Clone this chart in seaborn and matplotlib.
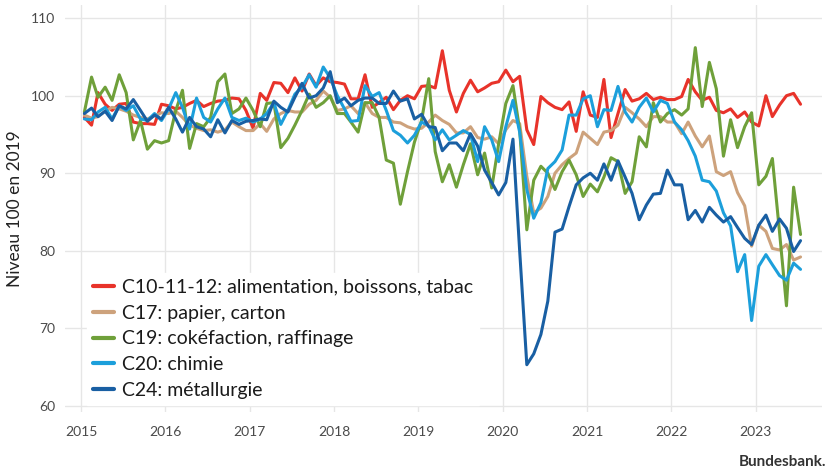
import numpy as np
import pandas as pd
import matplotlib
matplotlib.use("Agg")
import matplotlib.pyplot as plt
import matplotlib.dates as mdates
import seaborn as sns

# Monthly dates, Jan 2015 .. Jul 2023 (plotted mid-month)
months = pd.date_range("2015-01-01", "2023-07-01", freq="MS") + pd.Timedelta(days=14)

series_names = [
    "C10-11-12: alimentation, boissons, tabac",
    "C17: papier, carton",
    "C19: cokéfaction, raffinage",
    "C20: chimie",
    "C24: métallurgie",
]

c10_food = [
    97.2, 96.2, 100.4, 98.9, 98.1, 98.9, 99.0, 96.6, 96.4, 96.4, 96.3, 98.9,
    98.7, 98.3, 98.5, 99.0, 99.4, 98.6, 99.0, 99.3, 99.4, 99.7, 99.6, 98.1,
    95.8, 100.3, 99.4, 101.7, 101.6, 100.4, 102.3, 100.6, 102.8, 101.3, 102.3, 101.8,
    101.7, 101.5, 99.6, 99.6, 102.7, 98.5, 99.1, 99.8, 98.2, 99.4, 100.0, 99.6,
    101.2, 101.3, 101.0, 105.8, 100.7, 97.9, 100.3, 102.0, 100.5, 101.0, 101.6, 101.8,
    103.3, 101.8, 102.5, 95.6, 93.7, 99.9, 99.1, 98.5, 98.2, 99.2, 95.4, 100.5,
    97.5, 97.2, 102.1, 94.6, 97.7, 100.8, 99.3, 99.6, 100.3, 99.5, 99.8, 99.5,
    99.5, 99.9, 102.1, 100.5, 99.4, 99.8, 98.1, 97.8, 98.3, 97.2, 97.9, 96.6,
    96.1, 100.0, 97.3, 98.8, 100.0, 100.3, 98.9,
]
c17_paper = [
    97.5, 97.1, 97.3, 98.0, 98.5, 98.3, 98.0, 97.5, 97.2, 97.0, 97.4, 97.8,
    97.7, 98.0, 97.2, 96.2, 95.8, 95.5, 95.6, 95.3, 95.6, 96.6, 96.0, 95.5,
    95.5, 96.4, 95.4, 97.0, 97.7, 98.1, 97.9, 97.9, 98.9, 99.4, 100.6, 99.8,
    98.1, 98.3, 98.7, 97.7, 99.1, 97.7, 97.2, 97.2, 96.6, 96.5, 96.0, 95.7,
    95.8, 96.6, 97.5, 96.8, 96.3, 95.2, 95.2, 96.0, 94.6, 94.4, 94.7, 93.8,
    95.6, 96.8, 96.4, 89.6, 84.9, 85.5, 87.0, 90.0, 91.1, 91.9, 92.6, 95.3,
    94.5, 93.7, 95.3, 95.5, 96.2, 98.5, 97.8, 97.0, 96.0, 97.3, 97.3, 96.6,
    96.6, 95.1, 96.6, 94.8, 93.4, 94.8, 90.2, 89.7, 90.2, 87.5, 85.8, 80.6,
    83.3, 82.5, 80.3, 80.1, 80.8, 78.8, 79.2,
]
c19_coke = [
    97.9, 102.4, 99.8, 101.1, 99.4, 102.7, 100.4, 94.3, 96.8, 93.1, 94.2, 93.9,
    94.2, 98.1, 100.7, 93.2, 96.4, 96.0, 97.2, 101.8, 102.8, 97.7, 98.3, 99.7,
    98.1, 96.0, 99.0, 99.1, 93.3, 94.5, 96.2, 98.1, 100.2, 98.5, 99.1, 100.0,
    97.7, 97.7, 96.6, 95.3, 99.1, 99.1, 97.2, 91.7, 91.3, 86.0, 90.2, 94.0,
    96.8, 102.2, 92.8, 88.9, 91.1, 88.2, 91.1, 93.8, 89.8, 92.6, 88.1, 93.8,
    99.0, 101.3, 95.6, 82.7, 89.1, 90.9, 90.0, 87.9, 90.2, 91.7, 89.8, 87.0,
    88.6, 87.6, 89.5, 92.0, 91.5, 87.4, 88.9, 94.7, 93.4, 99.1, 96.6, 97.7,
    98.2, 97.5, 98.3, 106.2, 98.6, 104.3, 100.9, 92.2, 96.9, 93.3, 96.0, 97.8,
    88.5, 89.6, 91.9, 82.4, 72.9, 88.2, 82.1,
]
c20_chem = [
    97.0, 96.9, 97.9, 98.5, 97.0, 98.7, 98.1, 98.7, 97.0, 96.8, 97.7, 96.8,
    98.3, 100.4, 98.5, 95.7, 99.7, 97.2, 96.6, 98.3, 99.7, 97.2, 96.8, 97.1,
    96.6, 97.0, 97.7, 99.1, 96.3, 98.1, 100.2, 101.1, 102.7, 101.1, 103.7, 102.3,
    100.0, 98.3, 96.7, 96.8, 101.3, 99.9, 100.4, 98.1, 95.5, 94.9, 93.9, 94.9,
    96.6, 96.1, 94.3, 95.6, 94.3, 94.9, 95.5, 95.0, 91.5, 96.0, 94.3, 91.5,
    96.0, 99.4, 95.3, 87.9, 84.2, 86.2, 90.6, 91.5, 93.0, 97.5, 97.5, 99.6,
    100.0, 96.0, 98.2, 98.1, 101.2, 97.9, 96.6, 98.5, 99.7, 97.9, 99.4, 99.0,
    96.6, 95.6, 94.2, 92.2, 89.1, 88.9, 87.7, 84.9, 83.2, 77.3, 79.5, 71.0,
    78.0, 79.5, 78.2, 76.8, 76.2, 78.4, 77.6,
]
c24_metal = [
    97.7, 98.4, 97.3, 98.0, 96.8, 98.7, 98.3, 99.5, 98.1, 96.7, 97.5, 97.0,
    98.5, 97.0, 95.3, 97.2, 96.0, 95.7, 94.7, 96.9, 95.2, 96.8, 96.3, 96.7,
    96.8, 97.0, 96.9, 99.3, 98.5, 97.9, 99.8, 101.6, 99.7, 100.0, 101.0, 103.1,
    99.1, 99.7, 98.7, 99.4, 99.7, 99.7, 99.0, 99.0, 100.6, 99.3, 99.6, 97.0,
    97.6, 96.0, 95.9, 92.9, 93.9, 93.9, 92.9, 95.1, 93.5, 90.4, 88.8, 87.2,
    88.8, 94.4, 80.0, 65.3, 66.7, 69.2, 73.5, 82.4, 82.8, 85.7, 88.5, 89.4,
    90.0, 89.1, 91.2, 89.1, 91.6, 89.5, 87.4, 84.0, 85.9, 87.3, 87.4, 90.4,
    88.5, 88.5, 84.0, 85.2, 83.7, 85.6, 84.6, 83.7, 84.4, 83.0, 81.6, 80.8,
    83.3, 84.6, 82.5, 84.1, 82.9, 79.9, 81.3,
]

colors = ["#E8332A", "#CDA27C", "#6FA03A", "#1C9FDB", "#195FA3"]
y_ticks = [60, 70, 80, 90, 100, 110]

frames = []
for name, vals in zip(series_names, [c10_food, c17_paper, c19_coke, c20_chem, c24_metal]):
    frames.append(pd.DataFrame({"date": months, "value": vals, "series": name}))
df = pd.concat(frames, ignore_index=True)

sns.set_theme(style="whitegrid")
plt.rcParams["font.family"] = ["Lato", "DejaVu Sans"]

fig = plt.figure(figsize=(8.36, 4.71), dpi=100)
ax = fig.add_axes([65 / 836, 1 - 412 / 471, (822 - 65) / 836, (412 - 5) / 471])

sns.lineplot(data=df, x="date", y="value", hue="series", palette=colors,
             linewidth=2.2, ax=ax, legend=True)

ax.set_xlim(pd.Timestamp("2014-10-23"), pd.Timestamp("2023-10-16"))
ax.set_ylim(59.2, 111.7)
ax.set_yticks(y_ticks)
ax.xaxis.set_major_locator(mdates.YearLocator())
ax.xaxis.set_major_formatter(mdates.DateFormatter("%Y"))

ax.grid(True, color="#e6e6e6", linewidth=1.0)
for s in ax.spines.values():
    s.set_visible(False)
ax.tick_params(axis="both", length=0, labelsize=10, labelcolor="#4a4a4a")
ax.tick_params(axis="x", pad=10)
ax.tick_params(axis="y", pad=7)

ax.set_xlabel("")
ax.set_ylabel("Niveau 100 en 2019", fontsize=12.5, color="#222222", labelpad=6)

leg = ax.legend(loc="lower left", bbox_to_anchor=(0.029, 0.018), frameon=True,
                fontsize=14, handlelength=1.1, handletextpad=0.4,
                labelspacing=0.45, borderpad=0.3, borderaxespad=0.0)
leg.get_frame().set_facecolor("white")
leg.get_frame().set_edgecolor("white")
leg.get_frame().set_alpha(1.0)
leg.get_frame().set_boxstyle("square", pad=0.0)
for t in leg.get_texts():
    t.set_color("#1a1a1a")
for l in leg.get_lines():
    l.set_linewidth(3)

fig.text(826 / 836, 1 - 462 / 471, "Bundesbank.", ha="right", va="center",
         fontsize=11, fontweight="bold", color="#333333")

fig.savefig("out.png", dpi=100)
